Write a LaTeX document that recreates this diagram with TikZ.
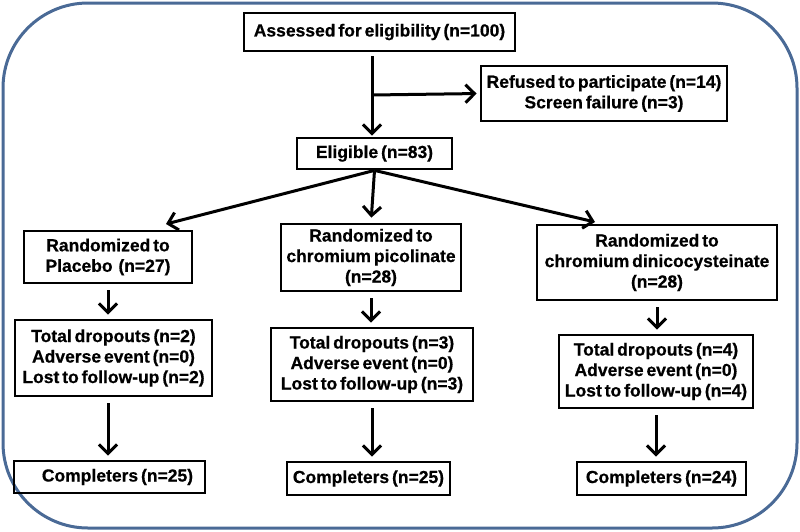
\documentclass[tikz,border=0pt]{standalone}
\usepackage{fontspec}
\setmainfont{Liberation Sans}[WordSpace=0.6,BoldFeatures={FakeBold=0.6}]
\usetikzlibrary{arrows.meta}
\definecolor{framecol}{RGB}{74,106,150}
\tikzstyle{flowbox} = [draw=black, line width=2.8pt, align=center, inner sep=1pt, font={\fontsize{17.5}{20.5}\selectfont\bfseries}]
\tikzstyle{arr} = [line width=3pt, -{Straight Barb[length=9pt,width=18pt]}]
\tikzstyle{vert} = [arr, shorten <=6pt, shorten >=4pt]
\tikzstyle{outerframe} = [draw=framecol, line width=3pt, rounded corners=85pt]

\begin{document}
\begin{tikzpicture}[x=1pt,y=-1pt]
    \useasboundingbox (0,0) rectangle (800,531);
    \draw[outerframe] (3,3) rectangle (797,528);
    \node[flowbox, minimum width=271pt, minimum height=38pt](assess) at (379.5,32){Assessed for eligibility (n=100)};
    \node[flowbox, minimum width=246pt, minimum height=55pt](refused) at (604,93.5){Refused to participate (n=14)\\Screen failure (n=3)};
    \node[flowbox, minimum width=155pt, minimum height=31pt](elig) at (374.5,153.5){Eligible (n=83)};
    \node[flowbox, minimum width=168pt, minimum height=52pt](placebo) at (108,257){Randomized to\\Placebo~ (n=27)};
    \node[flowbox, minimum width=180pt, minimum height=67pt](picol) at (371,257.5){Randomized to\\chromium picolinate\\(n=28)};
    \node[flowbox, minimum width=240pt, minimum height=75pt](dinico) at (657,262.5){Randomized to\\chromium dinicocysteinate\\(n=28)};
    \node[flowbox, minimum width=197pt, minimum height=76pt](dropP) at (113.5,358){Total dropouts (n=2)\\Adverse event (n=0)\\Lost to follow-up (n=2)};
    \node[flowbox, minimum width=202pt, minimum height=73pt](dropC) at (372,364.5){Total dropouts (n=3)\\Adverse event (n=0)\\Lost to follow-up (n=3)};
    \node[flowbox, minimum width=194pt, minimum height=73pt](dropD) at (656,371.5){Total dropouts (n=4)\\Adverse event (n=0)\\Lost to follow-up (n=4)};
    \node[flowbox, minimum width=191pt, minimum height=32pt](compP) at (109.5,477){\hspace*{16pt}Completers (n=25)};
    \node[flowbox, minimum width=163pt, minimum height=33pt](compC) at (368.5,478.5){Completers (n=25)};
    \node[flowbox, minimum width=169pt, minimum height=33pt](compD) at (661.5,478.5){Completers (n=24)};
    \coordinate (split) at (372,95);
    \coordinate (tipL) at (166,224);
    \coordinate (tipR) at (595,222);
    \draw[arr, shorten <=4pt, shorten >=1pt](assess.south -| split)--(elig.north -| split);
    \draw[arr, shorten >=3pt](split)--(refused.west);
    \draw[arr](elig.south)--(tipL);
    \draw[arr, shorten >=5pt](elig.south)--(picol.north);
    \draw[arr](elig.south)--(tipR);
    \draw[vert](placebo.south)--(placebo.south |- dropP.north);
    \draw[vert](picol.south)--(picol.south |- dropC.north);
    \draw[vert](dinico.south)--(dinico.south |- dropD.north);
    \draw[vert](dropP.south -| placebo)--(compP.north -| placebo);
    \draw[vert](dropC.south)--(dropC.south |- compC.north);
    \draw[vert](dropD.south)--(dropD.south |- compD.north);
  \end{tikzpicture}
\end{document}
